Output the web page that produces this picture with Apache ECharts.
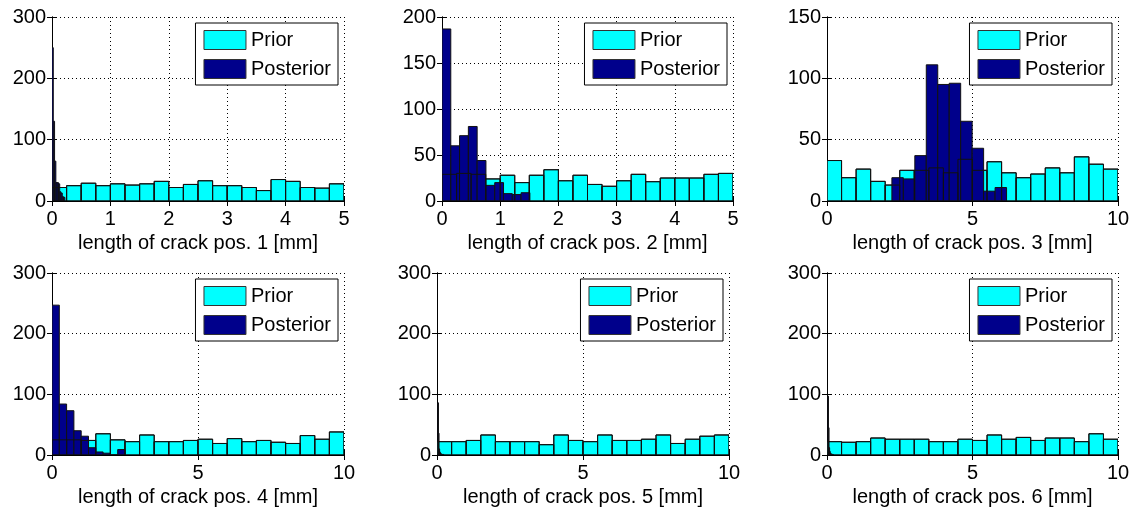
<!DOCTYPE html>
<html>
<head>
<meta charset="utf-8">
<script src="https://cdn.jsdelivr.net/npm/echarts@6/dist/echarts.min.js"></script>
<style>
html,body{margin:0;padding:0;background:#fff;}
#chart{width:1133px;height:508px;}
</style>
</head>
<body>
<div id="chart"></div>
<script>
// ---- data ----
const xNames = [
  'length of crack pos. 1 [mm]', 'length of crack pos. 2 [mm]', 'length of crack pos. 3 [mm]',
  'length of crack pos. 4 [mm]', 'length of crack pos. 5 [mm]', 'length of crack pos. 6 [mm]'
];
const xMax = [5, 5, 10, 10, 10, 10];
const xInterval = [1, 1, 5, 5, 5, 5];
const yMax = [300, 200, 150, 300, 300, 300];
const yInterval = [100, 50, 50, 100, 100, 100];

// prior histograms: 20 equal bins over [0, xMax]
const prior1 = [22, 25, 29, 25, 28, 26, 28, 32, 22, 27, 33, 25, 25, 22, 17, 35, 32, 22, 21, 28];
const prior2 = [29, 30, 29, 24, 28, 20, 28, 34, 22, 28, 18, 16, 22, 29, 21, 25, 25, 25, 29, 30];
const prior3 = [33, 19, 26, 16, 13, 25, 25, 27, 23, 34, 25, 32, 23, 19, 22, 27, 23, 36, 30, 26];
const prior4 = [25, 25, 24, 35, 25, 22, 33, 22, 22, 24, 26, 19, 27, 22, 24, 21, 19, 32, 26, 38];
const prior5 = [22, 22, 24, 33, 22, 22, 22, 17, 33, 24, 22, 33, 24, 24, 26, 33, 19, 26, 31, 33];
const prior6 = [22, 21, 22, 28, 26, 26, 26, 22, 22, 26, 24, 33, 26, 29, 24, 28, 28, 22, 35, 26];

// posterior histograms: 10 equal bins over [lo, hi]
const postRange1 = [0, 0.22];
const post1 = [250, 130, 65, 30, 30, 28, 15, 13, 7, 6];
const postRange2 = [0, 1.51];
const post2 = [187, 60, 71, 81, 44, 17, 20, 8, 7, 9];
const postRange3 = [2.23, 6.17];
const post3 = [19, 18, 37, 111, 95, 96, 65, 43, 8, 11];
const postRange4 = [0, 2.5];
const post4 = [247, 84, 73, 40, 31, 12, 5, 3, 0, 9];
const postRange5 = [0.03, 0.23];
const post5 = [86, 36, 10, 5, 3, 2, 1, 1, 0, 1];
const postRange6 = [0.03, 0.23];
const post6 = [97, 45, 12, 6, 3, 2, 1, 1, 1, 0];

const priors = [prior1, prior2, prior3, prior4, prior5, prior6];
const posts = [post1, post2, post3, post4, post5, post6];
const postRanges = [postRange1, postRange2, postRange3, postRange4, postRange5, postRange6];

// ---- layout ----
const W = 1133;
const grids = [
  {left: 52, top: 17, width: 292, height: 184},
  {left: 442, top: 17, width: 291, height: 184},
  {left: 827, top: 17, width: 291, height: 184},
  {left: 52, top: 273, width: 292, height: 184},
  {left: 437, top: 273, width: 292, height: 184},
  {left: 827, top: 273, width: 291, height: 184}
];
const FONT = "'Liberation Sans', Arial, Helvetica, sans-serif";
const CYAN = '#00ffff';
const NAVY = '#00008b';
const EDGE = '#111111';

function binsOf(counts, lo, hi) {
  const n = counts.length, w = (hi - lo) / n;
  return counts.map((c, i) => [lo + i * w, lo + (i + 1) * w, c]);
}

function makeRender(fill, stroke) {
  return function (params, api) {
    const p0 = api.coord([api.value(0), 0]);
    const p1 = api.coord([api.value(1), api.value(2)]);
    return {
      type: 'rect',
      shape: {x: p0[0], y: p1[1], width: p1[0] - p0[0], height: p0[1] - p1[1]},
      style: {fill: fill, stroke: stroke, lineWidth: 1}
    };
  };
}

const option = {
  backgroundColor: '#fff',
  animation: false,
  textStyle: {fontFamily: FONT},
  grid: [], xAxis: [], yAxis: [], series: [], legend: []
};

grids.forEach((g, i) => {
  option.grid.push(Object.assign({containLabel: false, show: false}, g));
  const axLine = {show: true, lineStyle: {color: '#000', width: 1}};
  const tick = {show: true, inside: true, length: 5, lineStyle: {color: '#000'}};
  option.xAxis.push({
    type: 'value', gridIndex: i, min: 0, max: xMax[i], interval: xInterval[i],
    position: 'bottom',
    axisLine: axLine, axisTick: tick,
    axisLabel: {color: '#000', fontSize: 20, fontFamily: FONT, margin: 8},
    splitLine: {show: true, lineStyle: {color: '#000', type: [1, 3], width: 1}},
    name: xNames[i], nameLocation: 'middle', nameGap: 32,
    nameTextStyle: {color: '#000', fontSize: 20, fontFamily: FONT}
  });
  option.xAxis.push({
    type: 'value', gridIndex: i, min: 0, max: xMax[i], interval: xInterval[i],
    position: 'top',
    axisLine: axLine, axisTick: tick, axisLabel: {show: false}, splitLine: {show: false}
  });
  option.yAxis.push({
    type: 'value', gridIndex: i, min: 0, max: yMax[i], interval: yInterval[i],
    position: 'left',
    axisLine: axLine, axisTick: tick,
    axisLabel: {color: '#000', fontSize: 20, fontFamily: FONT, margin: 6},
    splitLine: {show: true, lineStyle: {color: '#000', type: [1, 3], width: 1}}
  });
  option.yAxis.push({
    type: 'value', gridIndex: i, min: 0, max: yMax[i], interval: yInterval[i],
    position: 'right',
    axisLine: axLine, axisTick: tick, axisLabel: {show: false}, splitLine: {show: false}
  });

  const priorData = binsOf(priors[i], 0, xMax[i]);
  const postData = binsOf(posts[i], postRanges[i][0], postRanges[i][1]);
  const common = {type: 'custom', xAxisIndex: 2 * i, yAxisIndex: 2 * i, clip: true,
    encode: {x: [0, 1], y: 2}, silent: true};
  option.series.push(Object.assign({}, common, {
    name: 'Prior', data: priorData, renderItem: makeRender(CYAN, EDGE),
    itemStyle: {color: CYAN}, z: 2
  }));
  option.series.push(Object.assign({}, common, {
    name: 'Posterior', data: postData, renderItem: makeRender(NAVY, EDGE),
    itemStyle: {color: NAVY}, z: 3
  }));
  option.series.push(Object.assign({}, common, {
    name: 'prior-edges', data: priorData, renderItem: makeRender('none', EDGE), z: 4
  }));

  option.legend.push({
    orient: 'vertical',
    right: W - (g.left + g.width) + 6,
    top: g.top + 6,
    backgroundColor: '#fff',
    borderColor: '#000', borderWidth: 1,
    padding: [7, 7, 6, 8],
    itemWidth: 42, itemHeight: 19, itemGap: 9,
    selectedMode: false,
    textStyle: {color: '#000', fontSize: 20, fontFamily: FONT},
    data: [
      {name: 'Prior', icon: 'rect', itemStyle: {color: CYAN, borderColor: '#333', borderWidth: 1}},
      {name: 'Posterior', icon: 'rect', itemStyle: {color: NAVY, borderColor: '#333', borderWidth: 1}}
    ]
  });
});

const chart = echarts.init(document.getElementById('chart'), null, {renderer: 'canvas'});
chart.setOption(option);
</script>
</body>
</html>
